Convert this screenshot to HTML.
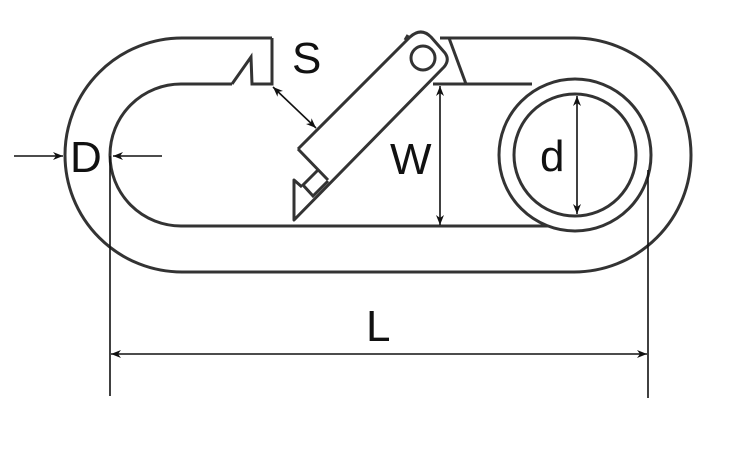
<!DOCTYPE html>
<html><head><meta charset="utf-8"><style>
html,body{margin:0;padding:0;background:#fff;width:750px;height:450px;overflow:hidden}
text{font-family:"Liberation Sans",sans-serif;fill:#111}
</style></head><body>
<svg width="750" height="450" viewBox="0 0 750 450" xmlns="http://www.w3.org/2000/svg">
<defs>
<marker id="a" viewBox="0 0 10 10" refX="10" refY="5" markerWidth="10" markerHeight="10" orient="auto-start-reverse" markerUnits="userSpaceOnUse">
<path d="M0,1 L10,5 L0,9 L3,5 Z" fill="#111"/></marker>
</defs>
<g fill="none" stroke="#333" stroke-width="3">
<path d="M272,38 L182,38 A117,117 0 0 0 182,272 L574,272 A117,117 0 0 0 574,38 L440,38"/>
<path d="M232,84 L181,84 A71,71 0 0 0 181,226 L548,226"/>
<path d="M433,84 L532,84"/>
<path d="M232,84 L251,57 L252,84 L272,84 L272,38"/>
<path d="M449,38 L466,84"/>
<circle cx="575" cy="155" r="76" fill="#fff"/>
<circle cx="575" cy="155" r="61"/>
<path d="M298,149 L410,37 Q421,27 431,37 L445,53 Q450,60 444,67 L294,220 L294,180 L302,187" fill="#fff" stroke-linejoin="round"/>
<path d="M298,149 L328,180"/>
<path d="M318,170 L303,185 L313,196 L328,181"/>
<path d="M405,40 L408,35"/>
<circle cx="423" cy="58" r="12" fill="#fff"/>
</g>
<g stroke="#111" stroke-width="1.6" fill="none">
<line x1="14" y1="156" x2="63" y2="156" marker-end="url(#a)"/>
<line x1="162" y1="156" x2="113" y2="156" marker-end="url(#a)"/>
<line x1="273" y1="87" x2="316" y2="128" marker-start="url(#a)" marker-end="url(#a)"/>
<line x1="440" y1="86" x2="440" y2="225" marker-start="url(#a)" marker-end="url(#a)"/>
<line x1="577" y1="96" x2="577" y2="214" marker-start="url(#a)" marker-end="url(#a)"/>
<line x1="110" y1="156" x2="110" y2="396"/>
<line x1="648" y1="170" x2="648" y2="398"/>
<line x1="111" y1="354" x2="647" y2="354" marker-start="url(#a)" marker-end="url(#a)"/>
</g>
<text x="70" y="172" font-size="44">D</text>
<text x="292" y="73" font-size="44">S</text>
<text x="390" y="174" font-size="44">W</text>
<text x="540" y="171" font-size="44">d</text>
<text x="366" y="341" font-size="44">L</text>
</svg>
</body></html>
